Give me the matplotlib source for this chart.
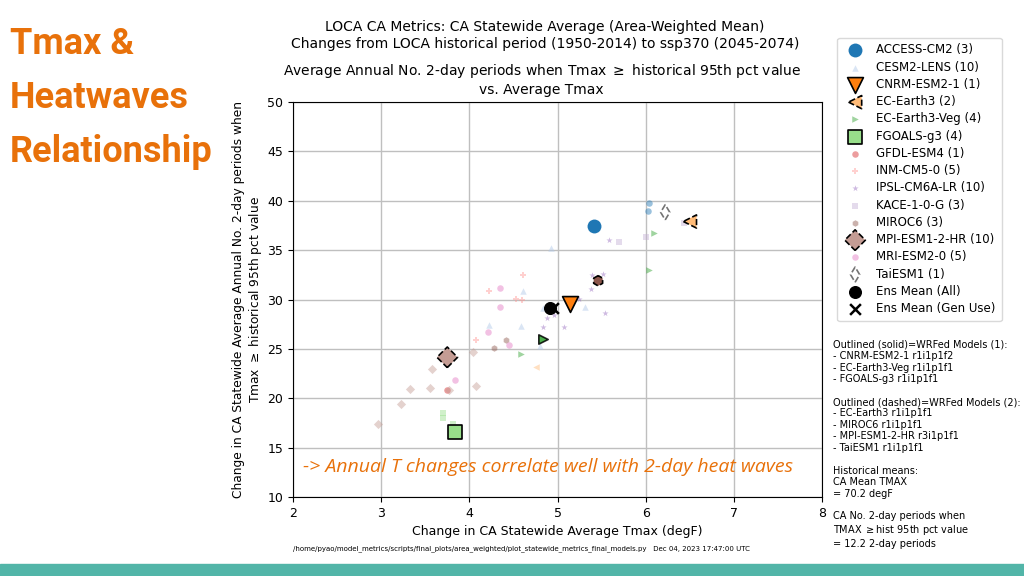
import matplotlib.pyplot as plt
from matplotlib.patches import Rectangle

# model names and ensemble sizes
models = ['ACCESS-CM2', 'CESM2-LENS', 'CNRM-ESM2-1', 'EC-Earth3', 'EC-Earth3-Veg',
          'FGOALS-g3', 'GFDL-ESM4', 'INM-CM5-0', 'IPSL-CM6A-LR', 'KACE-1-0-G',
          'MIROC6', 'MPI-ESM1-2-HR', 'MRI-ESM2-0', 'TaiESM1']
counts = [3, 10, 1, 2, 4, 4, 1, 5, 10, 3, 3, 10, 5, 1]

# change in Tmax (degF) / change in no. of 2-day heatwave periods, other members
member_dt = [
    [6.04, 6.03],
    [4.93, 4.61, 5.31, 4.22, 4.59, 4.80, 4.84],
    [],
    [4.76],
    [6.09, 6.04, 4.58],
    [3.70, 3.70, 3.82],
    [3.75],
    [4.61, 4.22, 4.53, 4.60, 4.08],
    [5.58, 5.39, 5.52, 5.38, 5.24, 4.88, 5.54, 4.84, 5.07, 4.96],
    [5.70, 6.00, 6.43],
    [4.42, 4.28],
    [4.04, 3.58, 3.33, 3.55, 4.08, 3.22, 2.97, 3.77],
    [4.35, 4.35, 4.21, 4.45, 3.84],
    [],
]
member_hw = [
    [39.8, 38.96],
    [35.25, 30.86, 29.24, 27.4, 27.35, 25.3, 29.1],
    [],
    [23.13],
    [36.7, 32.96, 24.5],
    [18.0, 18.5, 17.4],
    [20.84],
    [32.5, 30.9, 30.1, 30.0, 25.9],
    [36.0, 32.5, 32.55, 31.1, 30.08, 28.1, 28.6, 27.25, 27.25, 28.4],
    [35.85, 36.3, 37.75],
    [25.87, 25.12],
    [24.65, 22.96, 20.9, 21.07, 21.24, 19.42, 17.39, 20.8],
    [31.16, 29.27, 26.7, 25.4, 21.85],
    [],
]

# highlighted member per model (None = no highlighted member)
main_dt = [5.41, None, 5.14, 6.50, 4.84, 3.84, None, None, None, None, 5.46, 3.75, None, 6.22]
main_hw = [37.47, None, 29.5, 37.9, 26.0, 16.55, None, None, None, None, 31.9, 24.15, None, 38.83]

ens_all = (4.91, 29.17)
ens_gen = (4.95, 29.1)

title_lines = ['LOCA CA Metrics: CA Statewide Average (Area-Weighted Mean)',
               'Changes from LOCA historical period (1950-2014) to ssp370 (2045-2074)']
heading = ['Tmax &', 'Heatwaves', 'Relationship']
notes = ('Outlined (solid)=WRFed Models (1):\n- CNRM-ESM2-1 r1i1p1f2\n- EC-Earth3-Veg r1i1p1f1\n'
         '- FGOALS-g3 r1i1p1f1\n\nOutlined (dashed)=WRFed Models (2):\n- EC-Earth3 r1i1p1f1\n'
         '- MIROC6 r1i1p1f1\n- MPI-ESM1-2-HR r3i1p1f1\n- TaiESM1 r1i1p1f1\n\nHistorical means:\n'
         'CA Mean TMAX\n= 70.2 degF\n\nCA No. 2-day periods when\nTMAX $\\geq$hist 95th pct value\n'
         '= 12.2 2-day periods')

colors = plt.cm.tab20.colors
markers = ['o', '^', 'v', '<', '>', 's', 'o', 'P', '*', 's', 'h', 'D', 'o', 'd']
main_size = [100, 0, 130, 90, 45, 110, 0, 0, 0, 0, 55, 110, 0, 60]
main_edge = [None, None, '-', '--', '-', '-', None, None, None, None, '--', '--', None, '--']

fig = plt.figure(figsize=(10.24, 5.76), dpi=100)
ax = fig.add_axes([0.286, 0.137, 0.517, 0.686])

handles = []
for i, name in enumerate(models):
    c = colors[i]
    sm = ax.scatter(member_dt[i], member_hw[i], s=22, marker=markers[i], color=c,
                    alpha=0.45, linewidths=0, zorder=3)
    h = sm
    if main_dt[i] is not None:
        ls = main_edge[i]
        if ls is None:
            hm = ax.scatter([main_dt[i]], [main_hw[i]], s=main_size[i], marker=markers[i],
                            color=c, linewidths=0, zorder=5)
        else:
            fc = c if name != 'TaiESM1' else (1, 1, 1, 0)
            ec = 'k' if name != 'TaiESM1' else '0.45'
            hm = ax.scatter([main_dt[i]], [main_hw[i]], s=main_size[i], marker=markers[i],
                            facecolor=fc, edgecolor=ec, linewidths=1.2, linestyle=ls,
                            alpha=0.85 if name == 'EC-Earth3-Veg' else 1, zorder=5)
        if name not in ('EC-Earth3-Veg', 'MIROC6'):
            h = hm
    handles.append(h)

hx = ax.scatter(*ens_gen, s=60, marker='x', color='k', linewidths=1.8, zorder=6)
ha = ax.scatter(*ens_all, s=70, marker='o', color='k', zorder=7)
handles += [ha, hx]
labels = ['%s (%d)' % (m, n) for m, n in zip(models, counts)] + ['Ens Mean (All)', 'Ens Mean (Gen Use)']

ax.set_xlim(2, 8)
ax.set_ylim(10, 50)
ax.set_xticks(range(2, 9))
ax.set_yticks(range(10, 51, 5))
ax.grid(True, color='0.75', linewidth=1)
ax.set_axisbelow(True)
ax.tick_params(labelsize=9)
ax.set_xlabel('Change in CA Statewide Average Tmax (degF)', fontsize=9)
ax.set_ylabel('Change in CA Statewide Average Annual No. 2-day periods when\n'
              'Tmax $\\geq$ historical 95th pct value', fontsize=8.8, labelpad=2)
ax.set_title('Average Annual No. 2-day periods when Tmax $\\geq$ historical 95th pct value\n'
             'vs. Average Tmax', fontsize=10, x=0.47)

fig.text(0.532, 0.953, title_lines[0], ha='center', va='center', fontsize=10)
fig.text(0.532, 0.924, title_lines[1], ha='center', va='center', fontsize=10)

fig.legend(handles, labels, loc='upper left', bbox_to_anchor=(0.812, 0.945),
           fontsize=8.5, scatterpoints=1, labelspacing=0.36, handletextpad=0.8,
           borderpad=0.5, framealpha=1, edgecolor='0.85')

fig.text(0.813, 0.41, notes, ha='left', va='top', fontsize=7.0, linespacing=1.18)

ax.text(0.02, 0.075, '-> Annual T changes correlate well with 2-day heat waves',
        transform=ax.transAxes, fontsize=14, style='italic', color='#e8710a',
        family='Open Sans', va='center')

fig.text(0.286, 0.047, '/home/pyao/model_metrics/scripts/final_plots/area_weighted/'
         'plot_statewide_metrics_final_models.py   Dec 04, 2023 17:47:00 UTC',
         fontsize=5, va='center', ha='left')

for k, line in enumerate(heading):
    fig.text(0.01, 1 - (54 + 54 * k) / 576, line, ha='left', va='baseline',
             fontsize=26, fontweight='bold', color='#e8710a',
             family=['Roboto', 'DejaVu Sans'], fontstretch='condensed')

fig.patches.append(Rectangle((0, 0), 1, 0.02, transform=fig.transFigure,
                             color='#52b5a8', zorder=0))

fig.savefig('out.png', dpi=100)
